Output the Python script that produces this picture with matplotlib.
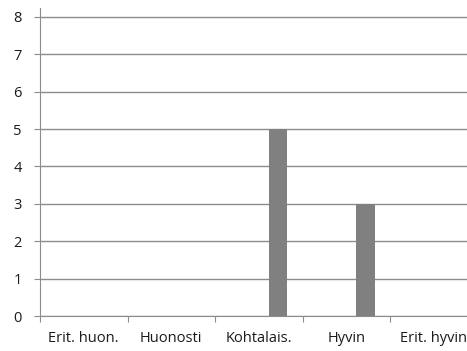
import matplotlib.pyplot as plt
import numpy as np

categories = ["Erit. huon.", "Huonosti", "Kohtalais.", "Hyvin", "Erit. hyvin"]
values = [0, 0, 5, 3, 0]
yticks = [0, 1, 2, 3, 4, 5, 6, 7, 8]

plt.rcParams['font.family'] = ['Open Sans', 'DejaVu Sans']

fig = plt.figure(figsize=(4.67, 3.51), dpi=100)
# plot area runs past the right edge, as in the original (last label clipped)
ax = fig.add_axes([40 / 467, 1 - 316 / 351, 437.5 / 467, 308 / 351])

x = np.arange(len(categories))
ax.bar(x + 0.22, values, width=0.21, color="#808080", zorder=3)

ax.set_xlim(-0.5, len(categories) - 0.5)
ax.set_ylim(0, 8.24)
ax.set_yticks(yticks)
ax.grid(axis="y", color="#8c8c8c", linewidth=1.0, zorder=0)

ax.set_xticks(np.arange(len(categories) + 1) - 0.5)
ax.set_xticklabels([])
ax.set_xticks(x, minor=True)
ax.set_xticklabels(categories, minor=True, fontsize=10.5, color="#1a1a1a")
ax.tick_params(axis="x", which="minor", length=0, pad=11)
ax.tick_params(axis="x", which="major", length=4, color="#8c8c8c")
ax.tick_params(axis="y", length=4, color="#8c8c8c", pad=9, labelsize=10.5,
               labelcolor="#1a1a1a")

for side in ["top", "right"]:
    ax.spines[side].set_visible(False)
for side in ["left", "bottom"]:
    ax.spines[side].set_color("#8c8c8c")

fig.savefig("out.png", dpi=100)
